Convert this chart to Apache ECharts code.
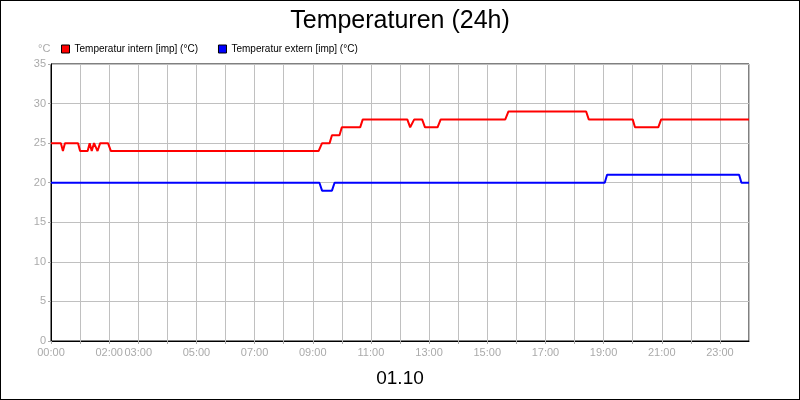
<!DOCTYPE html>
<html><head><meta charset="utf-8">
<script src="https://cdn.jsdelivr.net/npm/echarts@6/dist/echarts.min.js"></script>
<style>body{margin:0;background:#fff}#c{width:798px;height:398px;border:1px solid #000}</style>
</head><body><div id="c"></div>
<script>
const internHours = [0,0.34,0.41,0.48,0.93,1.00,1.26,1.33,1.40,1.48,1.60,1.69,1.96,2.06,9.20,9.32,9.58,9.66,9.92,10.0,10.63,10.72,12.25,12.35,12.49,12.76,12.86,13.29,13.40,15.62,15.73,18.40,18.49,20.0,20.08,20.88,20.98,24];
const internValues = [25,25,24,25,25,24,24,25,24,25,24,25,25,24,24,25,25,26,26,27,27,28,28,27,28,28,27,27,28,28,29,29,28,28,27,27,28,28];
const externHours = [0,9.23,9.32,9.66,9.75,19.04,19.12,23.66,23.74,24];
const externValues = [20,20,19,19,20,20,21,21,20,20];
const xLabelHours = [0,2,3,5,7,9,11,13,15,17,19,21,23];
const zip=(a,b)=>a.map((v,i)=>[v,b[i]]);
const pad=h=>(h<10?'0':'')+h+':00';
const chart=echarts.init(document.getElementById('c'));
chart.setOption({
  animation:false,
  title:{text:'Temperaturen (24h)',left:'center',top:3,textStyle:{fontFamily:'Liberation Sans',fontSize:25,fontWeight:'normal',color:'#000'}},
  legend:{left:55,top:38,itemWidth:8,itemHeight:8,itemGap:20,icon:'rect',textStyle:{fontFamily:'Liberation Sans',fontSize:10,color:'#000'},
    data:[{name:'Temperatur intern [imp] (°C)',itemStyle:{borderColor:'#000',borderWidth:1}},{name:'Temperatur extern [imp] (°C)',itemStyle:{borderColor:'#000',borderWidth:1}}]},
  grid:{left:50,right:50,top:63,bottom:58,show:true,borderColor:'#000',borderWidth:1},
  graphic:[{type:'text',left:37,top:42,style:{text:'°C',fill:'#aaa',font:'11px Liberation Sans'}},
           {type:'text',left:'center',top:368,style:{text:'01.10',fill:'#000',font:'19px Liberation Sans'}}],
  xAxis:{type:'value',min:0,max:24,interval:1,
    axisLine:{lineStyle:{color:'#000'}},axisTick:{show:true,length:3,lineStyle:{color:'#aaa'}},
    splitLine:{lineStyle:{color:'#c0c0c0'}},
    axisLabel:{color:'#aaa',fontFamily:'Liberation Sans',fontSize:11,margin:6,showMaxLabel:false,
      formatter:v=>xLabelHours.includes(v)?pad(v):''}},
  yAxis:{type:'value',min:0,max:35,interval:5,
    axisLine:{show:true,lineStyle:{color:'#000'}},axisTick:{show:true,length:3,lineStyle:{color:'#aaa'}},
    splitLine:{lineStyle:{color:'#c0c0c0'}},
    axisLabel:{color:'#aaa',fontFamily:'Liberation Sans',fontSize:11,margin:5}},
  series:[
    {name:'Temperatur intern [imp] (°C)',type:'line',data:zip(internHours,internValues),showSymbol:false,color:'#ff0000',lineStyle:{width:2}},
    {name:'Temperatur extern [imp] (°C)',type:'line',data:zip(externHours,externValues),showSymbol:false,color:'#0000ff',lineStyle:{width:2}}
  ]
});
</script></body></html>
